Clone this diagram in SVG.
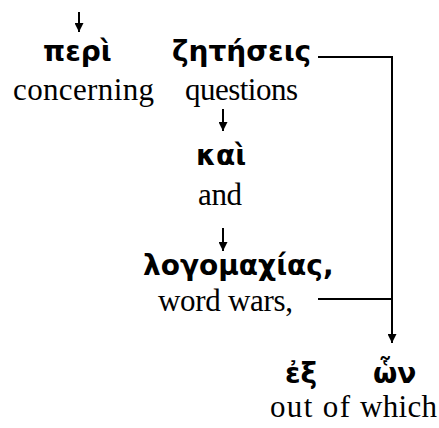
<svg xmlns="http://www.w3.org/2000/svg" width="439" height="428" viewBox="0 0 439 428">
<style>
.gk{font-family:"DejaVu Sans","Noto Sans",sans-serif;font-weight:bold;font-size:28px;fill:#000}
.en{font-family:"Liberation Serif","Tinos","DejaVu Serif",serif;font-size:31px;fill:#000}
.ln{stroke:#000;stroke-width:2;fill:none}
</style>
<defs>
<marker id="ah" viewBox="0 0 10 10" refX="10" refY="5" markerWidth="10" markerHeight="9" markerUnits="userSpaceOnUse" orient="auto">
<path d="M0,0 L10,5 L0,10 z" fill="#000"/>
</marker>
</defs>
<rect width="439" height="428" fill="#fff"/>
<g id="connectors">
<line class="ln" x1="79" y1="12" x2="79" y2="32" marker-end="url(#ah)"/>
<line class="ln" x1="223" y1="109" x2="223" y2="131" marker-end="url(#ah)"/>
<line class="ln" x1="223" y1="228" x2="223" y2="251" marker-end="url(#ah)"/>
<polyline class="ln" points="318,57 392,57 392,343" marker-end="url(#ah)"/>
<line class="ln" x1="318" y1="299" x2="392" y2="299"/>
</g>
<g id="peri">
<text class="gk" x="43" y="61">περὶ</text>
<text class="en" x="13" y="100" textLength="141" lengthAdjust="spacing">concerning</text>
</g>
<g id="zeteseis">
<text class="gk" x="172" y="61">ζητήσεις</text>
<text class="en" x="185" y="100" textLength="113" lengthAdjust="spacing">questions</text>
</g>
<g id="kai">
<text class="gk" x="196" y="165">καὶ</text>
<text class="en" x="198" y="205" textLength="44" lengthAdjust="spacing">and</text>
</g>
<g id="logomachias">
<text class="gk" x="143" y="275">λογομαχίας,</text>
<text class="en" x="158" y="311" textLength="135" lengthAdjust="spacing">word wars,</text>
</g>
<g id="ex">
<text class="gk" x="285" y="383">ἐξ</text>
<text class="en" x="270" y="417" textLength="80" lengthAdjust="spacing">out of</text>
</g>
<g id="hon">
<text class="gk" x="373" y="383">ὧν</text>
<text class="en" x="360" y="417" textLength="77" lengthAdjust="spacing">which</text>
</g>
</svg>
